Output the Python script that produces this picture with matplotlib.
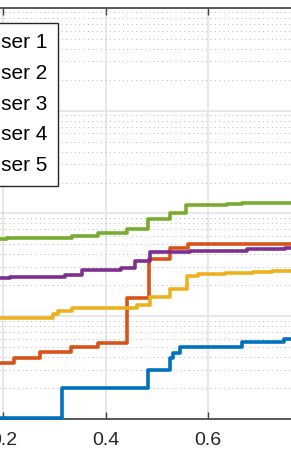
import numpy as np
import matplotlib
matplotlib.use("Agg")
import matplotlib.pyplot as plt

plt.rcParams['font.family'] = ['Liberation Sans', 'DejaVu Sans']

# step edges (x) and CDF values (y)
x_user1 = [0.19, 0.314, 0.484, 0.526, 0.532, 0.546, 0.667, 0.749, 0.77]
y_user1 = [1.02e-4, 2.0e-4, 3.03e-4, 3.94e-4, 4.41e-4, 5.08e-4, 5.58e-4, 6.03e-4, 6.03e-4]

x_user2 = [0.19, 0.221, 0.272, 0.333, 0.385, 0.442, 0.485, 0.526, 0.561, 0.77]
y_user2 = [3.55e-4, 3.92e-4, 4.54e-4, 5.01e-4, 5.48e-4, 1.51e-3, 3.61e-3, 4.67e-3, 5.05e-3, 5.05e-3]

x_user3 = [0.19, 0.297, 0.307, 0.334, 0.462, 0.487, 0.526, 0.560, 0.581, 0.634, 0.689, 0.726, 0.77]
y_user3 = [9.58e-4, 1.055e-3, 1.136e-3, 1.22e-3, 1.29e-3, 1.533e-3, 1.866e-3, 2.497e-3,
           2.582e-3, 2.641e-3, 2.70e-3, 2.78e-3, 2.78e-3]

x_user4 = [0.19, 0.213, 0.321, 0.354, 0.430, 0.458, 0.487, 0.565, 0.677, 0.751, 0.77]
y_user4 = [2.346e-3, 2.415e-3, 2.525e-3, 2.793e-3, 2.921e-3, 3.416e-3, 4.254e-3, 4.35e-3,
           4.49e-3, 4.57e-3, 4.57e-3]

x_user5 = [0.19, 0.207, 0.334, 0.385, 0.442, 0.483, 0.526, 0.558, 0.638, 0.667, 0.77]
y_user5 = [5.6e-3, 5.74e-3, 5.98e-3, 6.42e-3, 7.07e-3, 8.94e-3, 1.011e-2, 1.201e-2,
           1.228e-2, 1.251e-2, 1.251e-2]

labels = ['User 1', 'User 2', 'User 3', 'User 4', 'User 5']
colors = ['#0072BD', '#D95319', '#EDB120', '#7E2F8E', '#77AC30']
xticks = [0.2, 0.4, 0.6]

series = [(x_user1, y_user1), (x_user2, y_user2), (x_user3, y_user3),
          (x_user4, y_user4), (x_user5, y_user5)]

fig = plt.figure(figsize=(2.91, 4.58), dpi=100)
ax = fig.add_axes([0.0, 0.0845, 1.0, 0.8987])

handles = []
for (xs, ys), c, lab in zip(series, colors, labels):
    h, = ax.plot(xs, ys, drawstyle='steps-post', color=c, lw=2.6,
                 clip_on=False, label=lab, zorder=3)
    handles.append(h)

ax.set_yscale('log')
ax.set_ylim(1e-4, 1)
ax.set_xlim(0.1935, 0.763)

ax.set_xticks(xticks)
ax.set_xticklabels([f'{t:.1f}' for t in xticks])
ax.tick_params(axis='x', direction='in', length=5, width=1, color='#404040',
               top=True, labelsize=14, labelcolor='#262626', pad=9.5)
ax.tick_params(axis='y', which='both', left=False, right=False, labelleft=False)

ax.grid(True, which='major', color='#e3e3e3', lw=1.2, zorder=0)
ax.yaxis.grid(True, which='minor', color='#b8b8b8', lw=0.7, ls=(0, (1, 3.5)), zorder=0)
ax.set_axisbelow(True)

for s in ['left', 'right']:
    ax.spines[s].set_visible(False)
for s in ['top', 'bottom']:
    ax.spines[s].set_color('#404040')
    ax.spines[s].set_linewidth(1.2)

leg = fig.legend(handles=handles, loc='upper right',
                 bbox_to_anchor=(58 / 291, 1 - 23 / 458),
                 bbox_transform=fig.transFigure, fontsize=15,
                 frameon=True, fancybox=False, framealpha=1,
                 edgecolor='#262626', borderpad=0.5, labelspacing=0.56,
                 handlelength=2.0, handletextpad=0.5, borderaxespad=0)
leg.get_frame().set_linewidth(1.0)

fig.savefig('out.png', dpi=100)
